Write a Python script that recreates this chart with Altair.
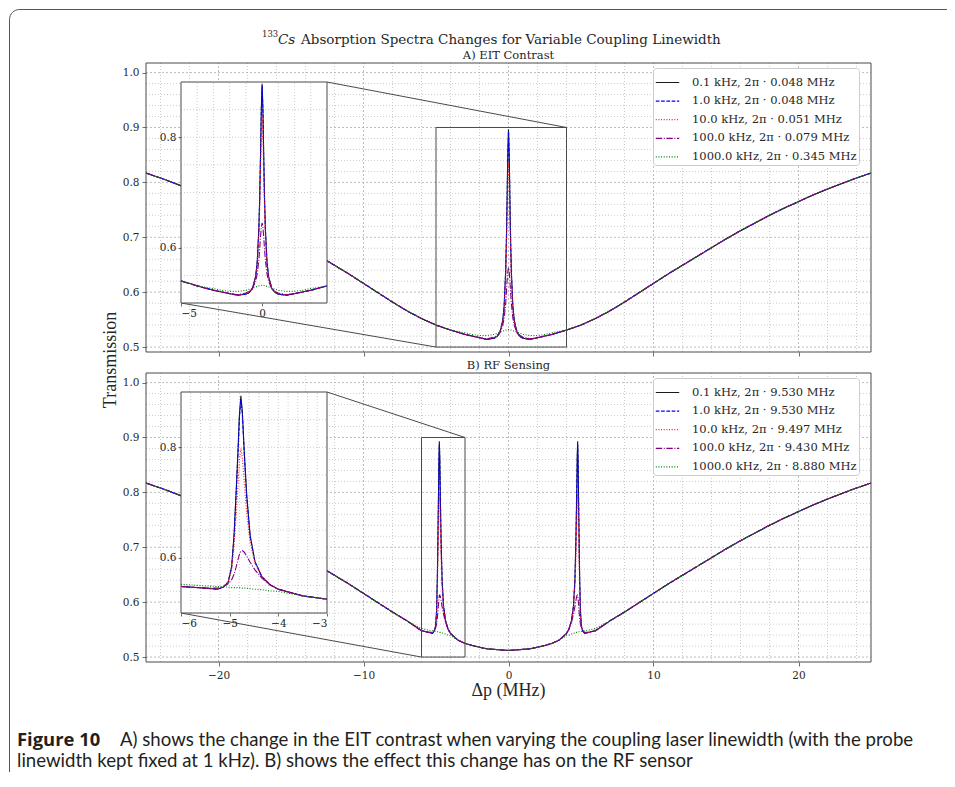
import altair as alt
import pandas as pd

# ---------------------------------------------------------------- data
LABELS_A = ["0.1 kHz, 2π · 0.048 MHz", "1.0 kHz, 2π · 0.048 MHz", "10.0 kHz, 2π · 0.051 MHz",
            "100.0 kHz, 2π · 0.079 MHz", "1000.0 kHz, 2π · 0.345 MHz"]
LABELS_B = ["0.1 kHz, 2π · 9.530 MHz", "1.0 kHz, 2π · 9.530 MHz", "10.0 kHz, 2π · 9.497 MHz",
            "100.0 kHz, 2π · 9.430 MHz", "1000.0 kHz, 2π · 8.880 MHz"]
COLORS = ["#1a1a1a", "#0000ff", "#ff2020", "#800080", "#008000"]
DASHES = [[1, 0], [3.7, 1.6], [1, 1.65], [6.4, 1.6, 1, 1.6], [1, 1.65]]

# broad Doppler background (shared by all curves far from resonance)
WING_X_LEFT = [-25, -24, -23, -22, -21, -20, -19, -18, -17, -16, -15, -14, -13, -12, -11, -10,
               -9, -8, -7, -6, -5, -4]
WING_T_LEFT = [0.817, 0.808, 0.798, 0.788, 0.777, 0.765, 0.753, 0.740, 0.726, 0.712, 0.697,
               0.681, 0.665, 0.649, 0.633, 0.616, 0.599, 0.582, 0.566, 0.552, 0.540, 0.531]
WING_X_RIGHT = [4, 5, 6, 7, 8, 9, 10, 11, 12, 13, 14, 15, 16, 17, 18, 19, 20, 21, 22, 23, 24, 25]
WING_T_RIGHT = [0.531, 0.540, 0.552, 0.566, 0.582, 0.599, 0.616, 0.633, 0.649, 0.665, 0.681,
                0.697, 0.712, 0.726, 0.740, 0.753, 0.765, 0.777, 0.788, 0.798, 0.808, 0.817]

# A) EIT contrast, central region
CENTER_A_X = [-3, -2.5, -2, -1.5, -1, -0.8, -0.6, -0.4, -0.3, -0.2, -0.15, -0.1, -0.05, 0,
              0.05, 0.1, 0.15, 0.2, 0.3, 0.4, 0.6, 0.8, 1, 1.5, 2, 2.5, 3]
A_BLACK = [0.523, 0.520, 0.517, 0.514, 0.516, 0.519, 0.526, 0.548, 0.575, 0.636, 0.690, 0.765,
           0.851, 0.897, 0.851, 0.765, 0.690, 0.636, 0.575, 0.548, 0.526, 0.519, 0.516, 0.514,
           0.517, 0.520, 0.523]
A_BLUE = [0.523, 0.520, 0.517, 0.514, 0.516, 0.519, 0.526, 0.547, 0.573, 0.633, 0.686, 0.760,
          0.846, 0.893, 0.846, 0.760, 0.686, 0.633, 0.573, 0.547, 0.526, 0.519, 0.516, 0.514,
          0.517, 0.520, 0.523]
A_RED = [0.523, 0.520, 0.517, 0.515, 0.517, 0.520, 0.527, 0.546, 0.570, 0.622, 0.668, 0.730,
         0.800, 0.838, 0.800, 0.730, 0.668, 0.622, 0.570, 0.546, 0.527, 0.520, 0.517, 0.515,
         0.517, 0.520, 0.523]
A_PURPLE = [0.523, 0.520, 0.517, 0.515, 0.518, 0.521, 0.526, 0.539, 0.553, 0.578, 0.597, 0.619,
            0.637, 0.645, 0.637, 0.619, 0.597, 0.578, 0.553, 0.539, 0.526, 0.521, 0.518, 0.515,
            0.517, 0.520, 0.523]
A_GREEN = [0.526, 0.523, 0.521, 0.521, 0.523, 0.525, 0.527, 0.529, 0.530, 0.531, 0.531, 0.532,
           0.532, 0.532, 0.532, 0.532, 0.531, 0.531, 0.530, 0.529, 0.527, 0.525, 0.523, 0.521,
           0.521, 0.523, 0.526]

# B) RF sensing (Autler-Townes split), central region
CENTER_B_X = [-7, -6.5, -6, -5.5, -5.25, -5.13, -5.03, -4.96, -4.91, -4.87, -4.83, -4.8, -4.77,
              -4.74, -4.7, -4.65, -4.58, -4.48, -4.34, -4.17, -4, -3.5, -3, -2.5, -2, -1.5, -1,
              -0.5, 0, 0.5, 1, 1.5, 2, 2.5, 3, 3.5, 4, 4.17, 4.34, 4.48, 4.58, 4.65, 4.7, 4.74,
              4.77, 4.8, 4.83, 4.87, 4.91, 4.96, 5.03, 5.13, 5.25, 5.5, 6, 6.5, 7]
B_BLACK = [0.566, 0.557, 0.548, 0.545, 0.543, 0.547, 0.556, 0.584, 0.641, 0.714, 0.792, 0.858,
           0.893, 0.865, 0.792, 0.714, 0.641, 0.593, 0.566, 0.551, 0.543, 0.531, 0.525, 0.521,
           0.518, 0.515, 0.514, 0.513, 0.512, 0.513, 0.514, 0.515, 0.518, 0.521, 0.525, 0.531,
           0.543, 0.551, 0.566, 0.593, 0.641, 0.714, 0.792, 0.865, 0.893, 0.858, 0.792, 0.714,
           0.641, 0.584, 0.556, 0.547, 0.543, 0.545, 0.548, 0.557, 0.566]
B_BLUE = [0.566, 0.557, 0.548, 0.545, 0.543, 0.547, 0.556, 0.582, 0.637, 0.709, 0.787, 0.852,
          0.887, 0.860, 0.788, 0.710, 0.638, 0.592, 0.566, 0.551, 0.543, 0.531, 0.525, 0.521,
          0.518, 0.515, 0.514, 0.513, 0.512, 0.513, 0.514, 0.515, 0.518, 0.521, 0.525, 0.531,
          0.543, 0.551, 0.566, 0.592, 0.638, 0.710, 0.788, 0.860, 0.887, 0.852, 0.787, 0.709,
          0.637, 0.582, 0.556, 0.547, 0.543, 0.545, 0.548, 0.557, 0.566]
B_RED = [0.566, 0.557, 0.548, 0.545, 0.544, 0.548, 0.556, 0.578, 0.620, 0.672, 0.730, 0.775,
         0.798, 0.782, 0.735, 0.680, 0.628, 0.590, 0.566, 0.551, 0.543, 0.531, 0.525, 0.521,
         0.518, 0.515, 0.514, 0.513, 0.512, 0.513, 0.514, 0.515, 0.518, 0.521, 0.525, 0.531,
         0.543, 0.551, 0.566, 0.590, 0.628, 0.680, 0.735, 0.782, 0.798, 0.775, 0.730, 0.672,
         0.620, 0.578, 0.556, 0.548, 0.544, 0.545, 0.548, 0.557, 0.566]
B_PURPLE = [0.566, 0.557, 0.548, 0.545, 0.545, 0.548, 0.553, 0.560, 0.570, 0.582, 0.596, 0.606,
            0.612, 0.613, 0.610, 0.603, 0.592, 0.578, 0.563, 0.551, 0.543, 0.531, 0.525, 0.521,
            0.518, 0.515, 0.514, 0.513, 0.512, 0.513, 0.514, 0.515, 0.518, 0.521, 0.525, 0.531,
            0.543, 0.551, 0.563, 0.578, 0.592, 0.603, 0.610, 0.613, 0.612, 0.606, 0.596, 0.582,
            0.570, 0.560, 0.553, 0.548, 0.545, 0.545, 0.548, 0.557, 0.566]
B_GREEN = [0.566, 0.559, 0.552, 0.549, 0.548, 0.547, 0.547, 0.546, 0.546, 0.546, 0.546, 0.546,
           0.546, 0.545, 0.545, 0.545, 0.544, 0.543, 0.542, 0.540, 0.539, 0.531, 0.525, 0.521,
           0.518, 0.515, 0.514, 0.513, 0.512, 0.513, 0.514, 0.515, 0.518, 0.521, 0.525, 0.531,
           0.539, 0.540, 0.542, 0.543, 0.544, 0.545, 0.545, 0.545, 0.546, 0.546, 0.546, 0.546,
           0.546, 0.546, 0.547, 0.547, 0.548, 0.549, 0.552, 0.559, 0.566]

# axis ticks / zoom windows
XTICKS = [-20, -10, 0, 10, 20]
YTICKS = [0.5, 0.6, 0.7, 0.8, 0.9, 1.0]
XDOM = [-25, 25]
YDOM = [0.491, 1.0175]
INSET_A_XLIM = [-5, 4]
INSET_B_XLIM = [-6, -3]
INSET_YLIM = [0.5, 0.9]
INSET_A_XTICKS = [-5, 0]
INSET_B_XTICKS = [-6, -5, -4, -3]
INSET_YTICKS = [0.6, 0.8]

TITLE_TEXT = "Absorption Spectra Changes for Variable Coupling Linewidth"
CAPTION_1 = "A) shows the change in the EIT contrast when varying the coupling laser linewidth (with the probe"
CAPTION_2 = "linewidth kept fixed at 1 kHz). B) shows the effect this change has on the RF sensor"

# ---------------------------------------------------------------- layout
W, H = 725, 599
PANEL_H, GAP = 289, 21
B_TOP = PANEL_H + GAP
INSET_PX_X = [35, 181]
INSET_TOP, INSET_BOT = 19, 240
SERIF = "DejaVu Serif"
TSERIF = "Liberation Serif"
CAPFONT = "Lato"
INK = "#262626"
FRAME = "#4a4a4a"
GRID = "#b8b8b8"
ONE = pd.DataFrame({"k": [0]})


def build_df(labels, cx, cvals, wing_cut):
    rows = []
    xl, tl = WING_X_LEFT[:wing_cut], WING_T_LEFT[:wing_cut]
    xr, tr = WING_X_RIGHT[len(WING_X_RIGHT) - wing_cut:], WING_T_RIGHT[len(WING_T_RIGHT) - wing_cut:]
    for lab, vals in zip(labels, cvals):
        for x, t in zip(xl + cx + xr, tl + vals + tr):
            rows.append({"x": x, "t": t, "series": lab})
    return pd.DataFrame(rows)


DF_A = build_df(LABELS_A, CENTER_A_X, [A_BLACK, A_BLUE, A_RED, A_PURPLE, A_GREEN], 22)
DF_B = build_df(LABELS_B, CENTER_B_X, [B_BLACK, B_BLUE, B_RED, B_PURPLE, B_GREEN], 18)


def px_to_x(px):
    return XDOM[0] + px / W * (XDOM[1] - XDOM[0])


def px_to_y(py):
    return YDOM[1] - py / PANEL_H * (YDOM[1] - YDOM[0])


def text(t, x, y, size, font=SERIF, color=INK, **kw):
    return alt.Chart(ONE).mark_text(text=t, font=font, fontSize=size, color=color, **kw).encode(
        x=alt.value(x), y=alt.value(y))


def grid_layers(X, Y, XD, YD, gx, gy, xlim, ylim, major_x, major_y):
    out = []
    for vals, major in ((gx, False), (major_x, True)):
        if not vals:
            continue
        out.append(alt.Chart(pd.DataFrame({"g": vals})).mark_rule(
            color="#a0a0a0" if major else GRID, strokeWidth=0.7,
            strokeDash=[2, 2] if major else [1, 2]).encode(
            x=X("g"), y=YD(ylim[0]), y2=alt.datum(ylim[1])))
    for vals, major in ((gy, False), (major_y, True)):
        if not vals:
            continue
        out.append(alt.Chart(pd.DataFrame({"g": vals})).mark_rule(
            color="#a0a0a0" if major else GRID, strokeWidth=0.7,
            strokeDash=[2, 2] if major else [1, 2]).encode(
            y=Y("g"), x=XD(xlim[0]), x2=alt.datum(xlim[1])))
    return out


def axis_common(tick=4, **kw):
    return alt.Axis(grid=False, domain=False, tickSize=tick, tickColor=FRAME, tickWidth=0.8,
                    labelFont=SERIF, labelFontSize=10.5, labelColor=INK, title=None, **kw)


def main_panel(df, labels, top, show_xlabels, zoom_xlim, legend_y):
    yrange = [top + PANEL_H, top]
    xs = alt.Scale(domain=XDOM, range=[0, W], nice=False, zero=False)
    ys = alt.Scale(domain=YDOM, range=yrange, nice=False, zero=False)
    xaxis = axis_common(orient="bottom", offset=-(H - top - PANEL_H), values=XTICKS,
                        labels=show_xlabels, labelPadding=4)
    yaxis = axis_common(orient="left", values=YTICKS, format=".1f", labelPadding=3)

    def X(f):
        return alt.X(f, type="quantitative", scale=xs, axis=xaxis)

    def Y(f):
        return alt.Y(f, type="quantitative", scale=ys, axis=yaxis)

    def XD(v):
        return alt.XDatum(datum=v, type="quantitative", scale=xs, axis=xaxis)

    def YD(v):
        return alt.YDatum(datum=v, type="quantitative", scale=ys, axis=yaxis)

    gx = [v for v in range(-24, 25, 2) if v % 10 != 0]
    gy = [round(0.5 + 0.02 * i, 2) for i in range(26) if i % 5 != 0]
    grids = grid_layers(X, Y, XD, YD, gx, gy, XDOM, YDOM, XTICKS, YTICKS)

    leg = alt.Legend(orient="none", legendX=507, legendY=legend_y, title=None,
                     fillColor="white", strokeColor="#cccccc", padding=2, cornerRadius=3,
                     labelFont=SERIF, labelFontSize=11.5, labelColor=INK, symbolType="stroke",
                     symbolSize=550, symbolStrokeWidth=1.2, rowPadding=0.6, labelOffset=12,
                     labelLimit=400)
    lines = alt.Chart(df).mark_line(strokeWidth=1.1).encode(
        x=X("x"), y=Y("t"),
        color=alt.Color("series:N", scale=alt.Scale(domain=labels, range=COLORS), legend=leg),
        strokeDash=alt.StrokeDash("series:N", scale=alt.Scale(domain=labels, range=DASHES),
                                  legend=leg))

    zoom = alt.Chart(ONE).mark_rect(fillOpacity=0, stroke=FRAME, strokeWidth=1).encode(
        x=XD(zoom_xlim[0]), x2=alt.datum(zoom_xlim[1]),
        y=YD(INSET_YLIM[0]), y2=alt.datum(INSET_YLIM[1]))
    conn = pd.DataFrame({
        "x": [px_to_x(INSET_PX_X[1]), px_to_x(INSET_PX_X[0])],
        "y": [px_to_y(INSET_TOP), px_to_y(INSET_BOT)],
        "x2": [zoom_xlim[1], zoom_xlim[0]],
        "y2": [INSET_YLIM[1], INSET_YLIM[0]]})
    connectors = alt.Chart(conn).mark_rule(color=FRAME, strokeWidth=1).encode(
        x=X("x"), y=Y("y"), x2="x2", y2="y2")
    frame = alt.Chart(ONE).mark_rect(fillOpacity=0, stroke=FRAME, strokeWidth=1).encode(
        x=XD(XDOM[0]), x2=alt.datum(XDOM[1]), y=YD(YDOM[0]), y2=alt.datum(YDOM[1]))
    return alt.layer(*grids, lines, zoom, connectors, frame)


def inset_panel(df, labels, top, xlim, xticks, gx, gy):
    xs = alt.Scale(domain=xlim, range=INSET_PX_X, nice=False, zero=False)
    ys = alt.Scale(domain=INSET_YLIM, range=[top + INSET_BOT, top + INSET_TOP], nice=False,
                   zero=False)
    xaxis = axis_common(tick=3, orient="bottom", offset=-(H - top - INSET_BOT), values=xticks,
                        labelPadding=2, zindex=1)
    yaxis = axis_common(tick=3, orient="left", offset=-INSET_PX_X[0], values=INSET_YTICKS,
                        format=".1f", labelPadding=2, zindex=1)

    def X(f):
        return alt.X(f, type="quantitative", scale=xs, axis=xaxis)

    def Y(f):
        return alt.Y(f, type="quantitative", scale=ys, axis=yaxis)

    def XD(v):
        return alt.XDatum(datum=v, type="quantitative", scale=xs, axis=xaxis)

    def YD(v):
        return alt.YDatum(datum=v, type="quantitative", scale=ys, axis=yaxis)

    bg = alt.Chart(ONE).mark_rect(fill="white").encode(
        x=XD(xlim[0]), x2=alt.datum(xlim[1]), y=YD(INSET_YLIM[0]), y2=alt.datum(INSET_YLIM[1]))
    grids = grid_layers(X, Y, XD, YD, gx, gy, xlim, INSET_YLIM, [], [])
    lines = alt.Chart(df).transform_filter(
        alt.FieldRangePredicate(field="x", range=xlim)).mark_line(strokeWidth=1.1).encode(
        x=X("x"), y=Y("t"),
        color=alt.Color("series:N", scale=alt.Scale(domain=labels, range=COLORS), legend=None),
        strokeDash=alt.StrokeDash("series:N", scale=alt.Scale(domain=labels, range=DASHES),
                                  legend=None))
    frame = alt.Chart(ONE).mark_rect(fillOpacity=0, stroke=FRAME, strokeWidth=1).encode(
        x=XD(xlim[0]), x2=alt.datum(xlim[1]), y=YD(INSET_YLIM[0]), y2=alt.datum(INSET_YLIM[1]))
    return alt.layer(bg, *grids, lines, frame)


panel_a = main_panel(DF_A, LABELS_A, 0, False, INSET_A_XLIM, 5)
panel_b = main_panel(DF_B, LABELS_B, B_TOP, True, INSET_B_XLIM, B_TOP + 5)
inset_a = inset_panel(DF_A, LABELS_A, 0, INSET_A_XLIM, INSET_A_XTICKS,
                      [-4, -3, -2, -1, 1, 2, 3],
                      [0.55, 0.6, 0.65, 0.7, 0.75, 0.8, 0.85])
inset_b = inset_panel(DF_B, LABELS_B, B_TOP, INSET_B_XLIM, INSET_B_XTICKS,
                      [-5.8, -5.6, -5.4, -5.2, -5, -4.8, -4.6, -4.4, -4.2, -4, -3.8, -3.6, -3.4,
                       -3.2],
                      [0.55, 0.6, 0.65, 0.7, 0.75, 0.8, 0.85])

border = alt.Chart(ONE).mark_rect(fillOpacity=0, stroke="#555555", strokeWidth=1,
                                  cornerRadius=10).encode(
    x=alt.value(-136.5), y=alt.value(-53.5), x2=alt.value(W + 400), y2=alt.value(H + 300))

texts = [
    text("133", 116, -29, 8.5, align="left"),
    text("Cs", 132, -23.5, 13.5, align="left", fontStyle="italic"),
    text(TITLE_TEXT, 155, -23.5, 13.5, align="left"),
    text("A) EIT Contrast", W / 2, -7, 11.5, align="center"),
    text("B) RF Sensing", W / 2, B_TOP - 7, 11.5, align="center"),
    text("Transmission", -35, 297, 18, font=TSERIF, angle=270,
         align="center", baseline="middle"),
    text("Δp (MHz)", W / 2, 628, 18, font=TSERIF, align="center", baseline="middle"),
    text("Figure 10", -129, 677, 18.4, font="Open Sans", align="left", fontWeight="bold",
         color="#231f20"),
    text(CAPTION_1, -26, 677, 18.6, font=CAPFONT, align="left", color="#231f20"),
    text(CAPTION_2, -129, 698, 18.6, font=CAPFONT, align="left", color="#231f20"),
]

chart = alt.layer(border, panel_a, inset_a, panel_b, inset_b, *texts).resolve_scale(
    x="independent", y="independent", color="independent", strokeDash="independent"
).properties(
    width=W, height=H,
    autosize=alt.AutoSizeParams(type="none"),
    padding={"left": 138, "top": 55, "right": 76, "bottom": 110},
).configure_view(strokeWidth=0)

chart.save("out.html", embed_options={"renderer": "svg", "actions": False})
